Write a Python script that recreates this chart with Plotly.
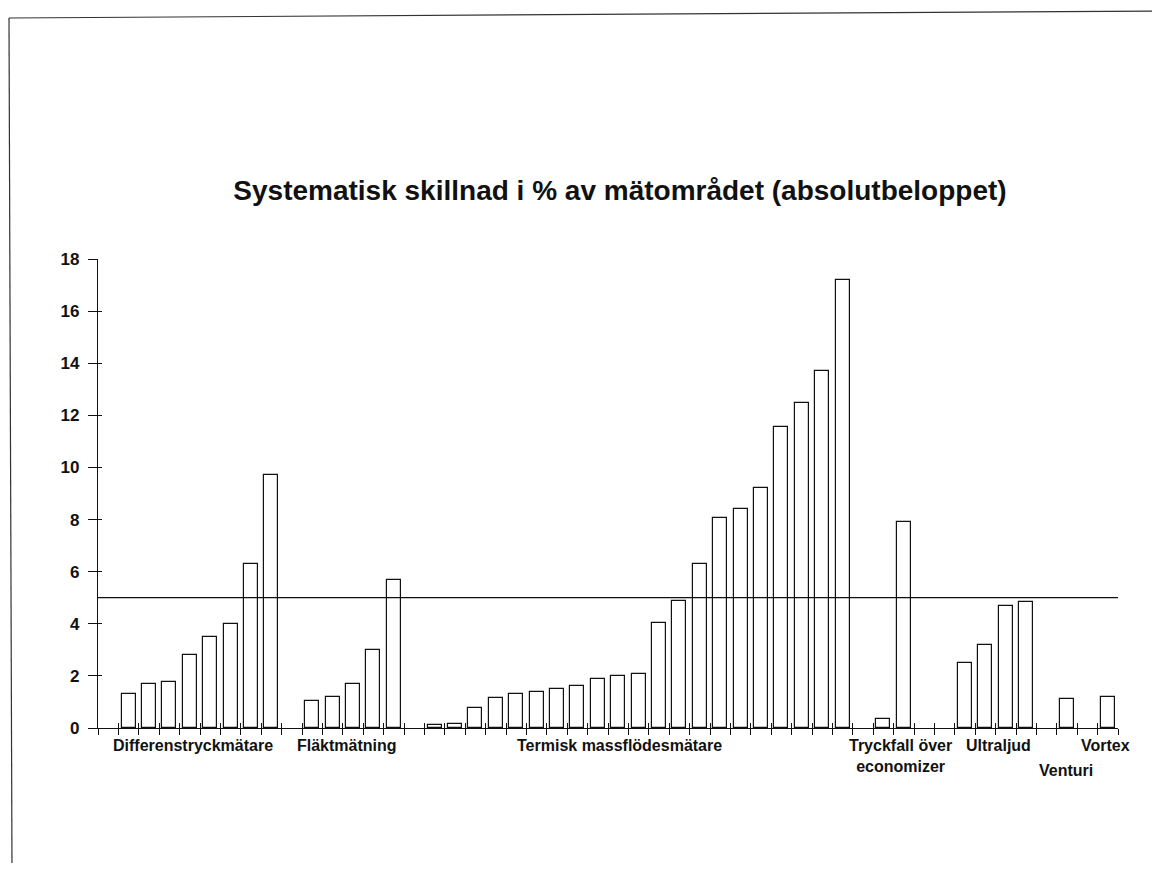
import plotly.graph_objects as go

# ---------------- data ----------------
group_names = [
    "Differenstryckmätare",
    "Fläktmätning",
    "Termisk massflödesmätare",
    "Tryckfall över<br>economizer",
    "Ultraljud",
    "Venturi",
    "Vortex",
]
differenstryck = [1.29, 1.69, 1.78, 2.81, 3.49, 4.00, 6.29, 9.71]
flaktmatning = [1.05, 1.18, 1.69, 3.00, 5.69]
termisk = [0.10, 0.15, 0.77, 1.16, 1.30, 1.38, 1.48, 1.62, 1.88, 1.98, 2.07,
           4.02, 4.88, 6.29, 8.06, 8.41, 9.23, 11.56, 12.47, 13.70, 17.20]
tryckfall = [0.35, 7.90]
ultraljud = [2.50, 3.18, 4.68, 4.83]
venturi = [1.13]
vortex = [1.19]
group_values = [differenstryck, flaktmatning, termisk, tryckfall, ultraljud, venturi, vortex]
empty_slots_before = [1, 1, 1, 1, 2, 1, 1]
y_ticks = [0, 2, 4, 6, 8, 10, 12, 14, 16, 18]
threshold = 5
title_text = "Systematisk skillnad i % av mätområdet (absolutbeloppet)"

# ---------------- build slots ----------------
xs, ys = [], []
slot = 0
for gap, vals in zip(empty_slots_before, group_values):
    slot += gap
    for v in vals:
        xs.append(slot + 0.5)
        ys.append(v)
        slot += 1
n_slots = slot

FONT = "Liberation Sans, Arial, sans-serif"
INK = "#111111"

# page offset of the figure (browser body margin)
OFF = 8
W, H = 1144, 855
L, T, R, B = 90, 251, 34, 135
# absolute plot-area box
PX0, PX1 = OFF + L, OFF + W - R
PY0, PY1 = OFF + T, OFF + H - B  # top, bottom


def px(xa):
    return (xa - PX0) / (PX1 - PX0)


def py(ya):
    return (PY1 - ya) / (PY1 - PY0)


fig = go.Figure()
fig.add_trace(go.Bar(
    x=xs, y=ys, width=0.69,
    marker=dict(color="white", line=dict(color=INK, width=1.2)),
    showlegend=False, hoverinfo="skip",
))
# invisible trace on the overlay axes (for crossing ticks)
fig.add_trace(go.Scatter(x=[0], y=[0], xaxis="x2", yaxis="y2", mode="markers",
                         marker=dict(opacity=0), showlegend=False, hoverinfo="skip"))

# threshold line
fig.add_shape(type="line", xref="x", yref="y", x0=0, x1=n_slots, y0=threshold, y1=threshold,
              line=dict(color=INK, width=1.2))

# scan frame (left and top edges)
fig.add_shape(type="line", xref="paper", yref="paper", x0=px(9), y0=py(18), x1=px(12), y1=py(871),
              line=dict(color="#333333", width=1.2))
fig.add_shape(type="line", xref="paper", yref="paper", x0=px(9), y0=py(18), x1=px(1160), y1=py(11),
              line=dict(color="#333333", width=1.2))

# group labels
label_x = [4.68, 12.23, 25.54, 39.34, 44.14, 47.44, 49.41]
label_shift = [-17, -17, -17, -28, -17, -42, -17]
for name, lx, ls in zip(group_names, label_x, label_shift):
    fig.add_annotation(x=lx, xref="x", y=0, yref="paper", text=name, showarrow=False,
                       xanchor="center", yanchor="middle", yshift=ls,
                       font=dict(family=FONT, size=16, color=INK, weight="bold"),
                       align="center")

tickvals_x = list(range(0, n_slots + 1))
fig.update_layout(
    width=W, height=H,
    margin=dict(l=L, r=R, t=T, b=B),
    paper_bgcolor="white", plot_bgcolor="white",
    title=dict(text=title_text, x=(620 - OFF) / W, xanchor="center",
               y=1 - (190 - OFF) / H, yanchor="middle",
               font=dict(family=FONT, size=28, color=INK, weight="bold")),
    xaxis=dict(range=[0, n_slots], tickvals=tickvals_x, showticklabels=False,
               ticks="outside", ticklen=6, tickcolor=INK, tickwidth=1,
               showline=True, linecolor=INK, linewidth=1.2, showgrid=False, zeroline=False,
               fixedrange=True),
    xaxis2=dict(range=[0, n_slots], tickvals=tickvals_x, showticklabels=False, overlaying="x",
                anchor="y2", side="bottom",
                ticks="inside", ticklen=5, tickcolor=INK, tickwidth=1,
                showline=False, showgrid=False, zeroline=False),
    yaxis=dict(range=[0, 18], tickvals=y_ticks, ticks="outside", ticklen=9, tickcolor=INK,
               tickwidth=1, showline=True, linecolor=INK, linewidth=1.2, showgrid=False,
               zeroline=False, ticklabelstandoff=5,
               tickfont=dict(family=FONT, size=17, color=INK, weight="bold")),
    yaxis2=dict(range=[0, 18], tickvals=y_ticks, showticklabels=False, overlaying="y",
                anchor="x2", side="left",
                ticks="inside", ticklen=4, tickcolor=INK, tickwidth=1,
                showline=False, showgrid=False, zeroline=False),
    bargap=0,
)

fig.write_html("out.html")
